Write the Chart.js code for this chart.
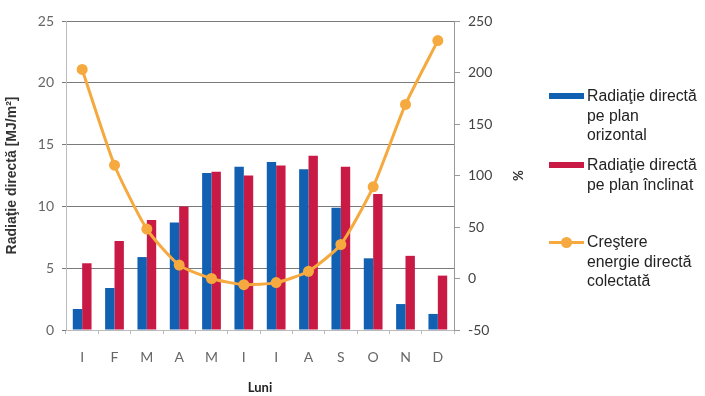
<!DOCTYPE html>
<html>
<head>
<meta charset="utf-8">
<script src="https://cdn.jsdelivr.net/npm/chart.js@4/dist/chart.umd.min.js"></script>
<style>
  html, body { margin: 0; padding: 0; background: #fff; }
  #wrap { position: relative; width: 705px; height: 396px; }
  canvas { position: absolute; left: 0; top: 0; }
  .leg { position: absolute; left: 549px; font-family: "Liberation Sans", Arial, sans-serif; font-size: 15.8px; line-height: 19.5px; color: #222; }
  .leg .sw { position: absolute; left: 0; width: 35px; height: 6px; }
  .leg .tx { position: absolute; left: 38px; white-space: nowrap; }
</style>
</head>
<body>
<div id="wrap">
  <canvas id="c" width="705" height="396"></canvas>
  <div id="legend"></div>
</div>
<script>
// Months (Romanian initials)
const months = ['I', 'F', 'M', 'A', 'M', 'I', 'I', 'A', 'S', 'O', 'N', 'D'];

// Monthly direct radiation, MJ/m²
const radOrizontal = [1.7, 3.4, 5.9, 8.7, 12.7, 13.2, 13.6, 13.0, 9.9, 5.8, 2.1, 1.3];
const radInclinat  = [5.4, 7.2, 8.9, 10.0, 12.8, 12.5, 13.3, 14.1, 13.2, 11.0, 6.0, 4.4];

// Gain in collected direct energy, %
const crestere = [203, 110, 48, 13, 0, -6, -4, 7, 33, 89, 169, 231];

const seriesNames = [
  ['Radiaţie directă', 'pe plan', 'orizontal'],
  ['Radiaţie directă', 'pe plan înclinat'],
  ['Creştere', 'energie directă', 'colectată']
];

const BLUE = '#1260B2';
const RED = '#C91A45';
const ORANGE = '#F5A93F';

const tickFont = { family: 'Lato, "Open Sans", sans-serif', size: 14 };

new Chart(document.getElementById('c'), {
  type: 'bar',
  data: {
    labels: months,
    datasets: [
      {
        type: 'line',
        label: seriesNames[2].join(' '),
        data: crestere,
        yAxisID: 'y1',
        borderColor: ORANGE,
        backgroundColor: ORANGE,
        borderWidth: 3,
        pointRadius: 5.5,
        pointBorderWidth: 0,
        pointBackgroundColor: ORANGE,
        tension: 0.2,
        order: 0
      },
      {
        label: seriesNames[0].join(' '),
        data: radOrizontal,
        backgroundColor: BLUE,
        yAxisID: 'y',
        categoryPercentage: 0.58,
        barPercentage: 1.0,
        order: 1
      },
      {
        label: seriesNames[1].join(' '),
        data: radInclinat,
        backgroundColor: RED,
        yAxisID: 'y',
        categoryPercentage: 0.58,
        barPercentage: 1.0,
        order: 1
      }
    ]
  },
  options: {
    responsive: false,
    animation: false,
    layout: { padding: { top: 21, right: 172, bottom: 0, left: 0 } },
    plugins: {
      legend: { display: false },
      tooltip: { enabled: false }
    },
    scales: {
      x: {
        offset: true,
        grid: { drawOnChartArea: false, drawTicks: true, tickLength: 4, color: '#bbb', offset: true },
        border: { color: '#bbb' },
        ticks: { color: '#666', font: tickFont, padding: 15 },
        title: {
          display: true, text: 'Luni', color: '#222',
          font: { family: 'Lato, "Open Sans", sans-serif', size: 13, weight: 'bold' },
          padding: { top: 13, bottom: 0 }
        },
        afterFit: s => { s.height = 66; }
      },
      y: {
        position: 'left',
        min: 0, max: 25,
        ticks: { stepSize: 5, color: '#666', font: tickFont, padding: 8 },
        grid: { color: '#7a7a7a', lineWidth: 1, drawTicks: true, tickLength: 4 },
        border: { color: '#bbb' },
        title: {
          display: true, text: 'Radiaţie directă [MJ/m²]', color: '#333',
          font: { family: '"Liberation Sans", Arial, sans-serif', size: 14, weight: 'bold' },
          padding: { bottom: 2 }
        },
        afterFit: s => { s.width = 66; }
      },
      y1: {
        position: 'right',
        min: -50, max: 250,
        ticks: { stepSize: 50, color: '#444', font: tickFont, padding: 8 },
        grid: { drawOnChartArea: false, drawTicks: true, tickLength: 6, color: '#999' },
        border: { color: '#999' },
        title: {
          display: true, text: '%', color: '#333',
          font: { family: 'Lato, "Open Sans", sans-serif', size: 13, weight: 'bold' },
          padding: { top: 8 }
        },
        afterFit: s => { s.width = 79; }
      }
    }
  }
});

// Legend placed to the right of the plot
const legendItems = [
  { top: 86, lines: seriesNames[0], kind: 'box', color: BLUE },
  { top: 155, lines: seriesNames[1], kind: 'box', color: RED },
  { top: 232, lines: seriesNames[2], kind: 'line', color: ORANGE }
];
const legendEl = document.getElementById('legend');
legendItems.forEach(it => {
  const d = document.createElement('div');
  d.className = 'leg';
  d.style.top = it.top + 'px';
  const sw = document.createElement('div');
  sw.className = 'sw';
  if (it.kind === 'box') {
    sw.style.background = it.color;
    sw.style.top = '7px';
  } else {
    sw.style.top = '9px';
    sw.style.height = '3px';
    sw.style.background = it.color;
    const dot = document.createElement('div');
    dot.style.cssText = 'position:absolute;left:12px;top:-4px;width:11px;height:11px;border-radius:50%;background:' + it.color;
    sw.appendChild(dot);
  }
  d.appendChild(sw);
  const tx = document.createElement('div');
  tx.className = 'tx';
  tx.innerHTML = it.lines.join('<br>');
  d.appendChild(tx);
  legendEl.appendChild(d);
});
</script>
</body>
</html>
